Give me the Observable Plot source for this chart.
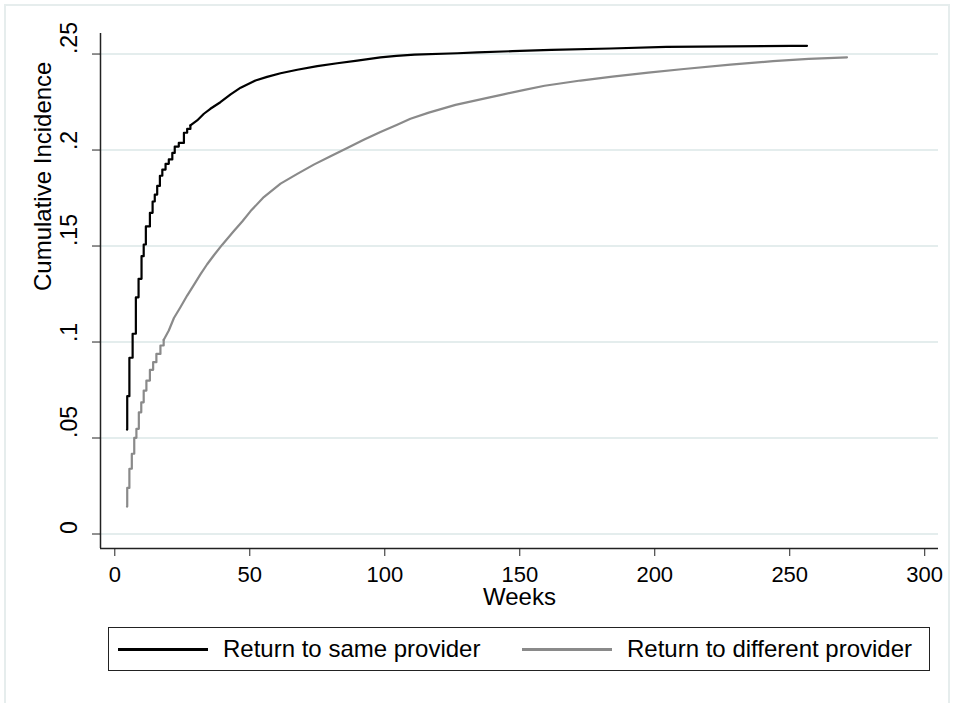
<!DOCTYPE html>
<html>
<head>
<meta charset="utf-8">
<script src="https://cdn.jsdelivr.net/npm/d3@7"></script>
<script src="https://cdn.jsdelivr.net/npm/@observablehq/plot@0.6"></script>
<style>
  html, body { margin: 0; padding: 0; background: #fff; overflow: hidden; }
  body { width: 964px; height: 703px; position: relative; font-family: "Liberation Sans", Arial, sans-serif; }
  #frame { position: absolute; left: 4px; top: 4px; width: 946px; height: 720px; border: 2px solid #e6eded; box-sizing: border-box; }
  #chart { position: absolute; left: 0; top: 0; }
  #legend { position: absolute; left: 108px; top: 627px; width: 822px; height: 44px; border: 1.5px solid #222; box-sizing: border-box; background: #fff; }
  .key { position: absolute; top: 20px; width: 90px; height: 2.5px; }
  .lab { position: absolute; top: 0; height: 41px; line-height: 41px; font-size: 24px; color: #000; white-space: nowrap; }
</style>
</head>
<body>
<div id="frame"></div>
<div id="chart"></div>
<div id="legend">
  <div class="key" id="k1"></div><div class="lab" id="l1"></div>
  <div class="key" id="k2"></div><div class="lab" id="l2"></div>
</div>
<script>
// ---- data ----
const seriesNames = ["Return to same provider", "Return to different provider"];
const seriesColors = ["#000000", "#8a8a8a"];

const sameWeeks = [4.5, 4.6, 5.4, 6.6, 7.8, 8.8, 9.9, 10.7, 11.5, 13, 14, 14.8, 15.7, 16.7, 17.6, 18.8, 20, 21.3, 22.2, 23.7, 25.6, 26.8, 28,
  30.5, 33, 35.4, 39.1, 42.9, 46.6, 52.1, 56.4, 61.4, 67.6, 75, 82.4, 89.8, 98.4, 104.3, 111, 126.9, 134.3, 147.3, 161.7, 183.6, 204.3, 250.6, 256.4];
const sameCI = [0.0544, 0.0718, 0.0918, 0.1043, 0.1233, 0.1329, 0.1447, 0.1508, 0.1602, 0.1673, 0.1732, 0.1768, 0.1813, 0.1866, 0.1898, 0.1928, 0.1951, 0.1985, 0.2018, 0.2037, 0.209, 0.211, 0.2128,
  0.2154, 0.2189, 0.2215, 0.2249, 0.229, 0.2325, 0.2362, 0.2381, 0.24, 0.2418, 0.2437, 0.2452, 0.2466, 0.2483, 0.249, 0.2497, 0.2504, 0.2509, 0.2515, 0.2522, 0.2529, 0.2537, 0.2543, 0.2543];

const diffWeeks = [4.5, 4.6, 5.4, 6.3, 7.2, 8.0, 8.9, 9.8, 10.7, 11.7, 13, 14.2, 15.4, 16.9, 18.1,
  20, 21.9, 24.3, 26.8, 29.3, 31.7, 34.2, 36.7, 39.8, 44.1, 47.2, 50.3, 55.2, 61.4, 67.6, 73.7, 79.9, 86.1, 92.2, 98.4,
  104.6, 109.5, 116.3, 126.2, 138, 144, 151.3, 159.2, 172.5, 184.3, 197.6, 210.8, 228, 243.8, 257, 271.2];
const diffCI = [0.0143, 0.024, 0.034, 0.0418, 0.0501, 0.0548, 0.0634, 0.0686, 0.0747, 0.0799, 0.0855, 0.0895, 0.0938, 0.0982, 0.1011,
  0.106, 0.1125, 0.1181, 0.1242, 0.1298, 0.1352, 0.1405, 0.1452, 0.1507, 0.1578, 0.1628, 0.1682, 0.1755, 0.1825, 0.1876, 0.1924, 0.1968, 0.2011, 0.2053, 0.2094,
  0.2132, 0.2163, 0.2195, 0.2235, 0.2272, 0.229, 0.2312, 0.2335, 0.2362, 0.2382, 0.2403, 0.2422, 0.2445, 0.2463, 0.2475, 0.2483];

const xTicks = [0, 50, 100, 150, 200, 250, 300];
const yTicks = [0, 0.05, 0.1, 0.15, 0.2, 0.25];
const yTickLabels = ["0", ".05", ".1", ".15", ".2", ".25"];
const xTitle = "Weeks";
const yTitle = "Cumulative Incidence";

// ---- rendering options ----
const xDomain = [-5.3, 305.1];
const yDomain = [-0.00755, 0.2607];
const stepEnd = [28, 18.1]; // weeks shown as visible stairs

const series = [
  sameWeeks.map((w, i) => ({week: w, ci: sameCI[i]})),
  diffWeeks.map((w, i) => ({week: w, ci: diffCI[i]}))
];

const lineMarks = [];
series.forEach((rows, s) => {
  lineMarks.push(Plot.line(rows.filter(d => d.week <= stepEnd[s]), {x: "week", y: "ci", curve: "step-after", stroke: seriesColors[s], strokeWidth: 2.2}));
  lineMarks.push(Plot.line(rows.filter(d => d.week >= stepEnd[s]), {x: "week", y: "ci", curve: "linear", stroke: seriesColors[s], strokeWidth: 2.2}));
});

const fmtY = d => yTickLabels[yTicks.indexOf(d)];

const chart = Plot.plot({
  width: 964,
  height: 618,
  marginLeft: 100,
  marginRight: 26,
  marginTop: 33,
  marginBottom: 70,
  style: {fontFamily: "'Liberation Sans', Arial, sans-serif", color: "#000", background: "transparent"},
  x: {domain: xDomain},
  y: {domain: yDomain},
  marks: [
    Plot.ruleY(yTicks, {stroke: "#e4eded", strokeWidth: 2}),
    ...lineMarks,
    Plot.ruleX([xDomain[0]], {stroke: "#222", strokeWidth: 1.5}),
    Plot.ruleY([yDomain[0]], {stroke: "#222", strokeWidth: 1.5}),
    Plot.axisX({ticks: xTicks, tickSize: 8, tickPadding: 10, fontSize: 22, label: null, tickFormat: d => String(d), stroke: "#222"}),
    Plot.axisY({ticks: yTicks, tickSize: 8, tickFormat: () => "", label: null, stroke: "#222"}),
    Plot.text(yTicks, {y: d => d, text: fmtY, frameAnchor: "left", dx: -31, rotate: -90, fontSize: 23, fill: "#000"}),
    Plot.text([xTitle], {text: d => d, frameAnchor: "bottom", dy: 56.5, fontSize: 24, fill: "#000"}),
    Plot.text([yTitle], {text: d => d, frameAnchor: "left", dx: -57, rotate: -90, fontSize: 24, fill: "#000"})
  ]
});
document.getElementById("chart").appendChild(chart);

// legend
const k1 = document.getElementById("k1"), k2 = document.getElementById("k2");
k1.style.left = "9px"; k1.style.background = seriesColors[0];
k2.style.left = "413px"; k2.style.background = seriesColors[1];
const l1 = document.getElementById("l1"), l2 = document.getElementById("l2");
l1.textContent = seriesNames[0]; l1.style.left = "114px";
l2.textContent = seriesNames[1]; l2.style.left = "518px";
</script>
</body>
</html>
